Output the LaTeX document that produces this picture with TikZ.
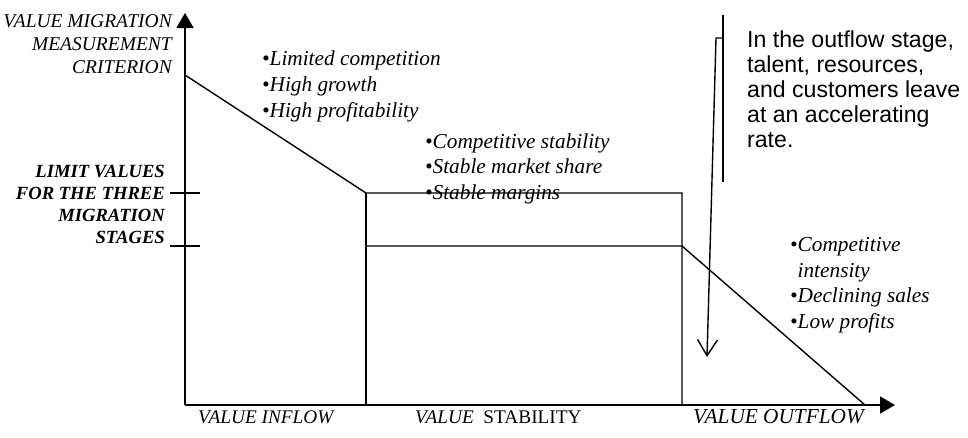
\documentclass[tikz,border=0pt]{standalone}
\usepackage{fontspec}
\setmainfont{Liberation Serif}
\newfontfamily\arialfont{Liberation Sans}
\usetikzlibrary{arrows.meta}
\tikzset{axis/.style={line width=1.8pt,-{Triangle[length=15pt,width=17pt]}}}
\tikzset{curve/.style={line width=1.4pt}}
\tikzset{lbl/.style={inner sep=0pt,font=\fontsize{21.3}{23}\selectfont\itshape}}
\tikzset{bullets/.style={lbl,align=left,font=\fontsize{21.3}{25.5}\selectfont\itshape}}

\begin{document}
\begin{tikzpicture}[x=1pt, y=-1pt]
    \useasboundingbox (0,0) rectangle (968,437);
    \coordinate (O) at (185,405);
    \coordinate (YT) at (185,13);
    \coordinate (XT) at (895,405);
    \coordinate (A) at (185,75);
    \coordinate (B) at (366,193);
    \coordinate (C) at (682,193);
    \coordinate (D) at (366,246);
    \coordinate (E) at (682,246);
    \coordinate (F) at (865,405);
    \coordinate (BO) at (366,405);
    \coordinate (CO) at (682,405);
    \coordinate (T1L) at (170,193);
    \coordinate (T1R) at (200,193);
    \coordinate (T2L) at (170,246);
    \coordinate (T2R) at (200,246);
    \coordinate (PT) at (723,15);
    \coordinate (PB) at (723,182);
    \coordinate (PK) at (723,38);
    \coordinate (QT) at (716,38);
    \coordinate (QB) at (707,357);

    % axes
    \draw [axis] (O) to (YT);
    \draw [axis] (O) to (XT);
    \draw [curve] (T1L) to (T1R);
    \draw [curve] (T2L) to (T2R);

    % migration curve
    \draw [curve] (A) to (B) to (C) to (CO);
    \draw [curve] (B) to (BO);
    \draw [curve] (D) to (E) to (F);

    % outflow arrow
    \draw [curve] (PT) to (PB);
    \draw [curve, -{Straight Barb[length=16pt,width=20pt]}] (PK) to (QT) to (QB);

    % labels (base = last line)
    \node [lbl, align=right, anchor=base east, font=\fontsize{19.5}{23}\selectfont\itshape] (crit) at (172,73)
        {VALUE MIGRATION\\MEASUREMENT\\CRITERION};
    \node [lbl, align=right, anchor=base east, font=\fontsize{18.6}{22}\selectfont\bfseries\itshape] (limit) at (165,243)
        {LIMIT VALUES\\FOR THE THREE\\MIGRATION\\STAGES};

    \node [bullets, anchor=base west, font=\fontsize{21.3}{26}\selectfont\itshape] (inflow) at (262,117)
        {\textbullet Limited competition\\\textbullet High growth\\\textbullet High profitability};
    \node [bullets, anchor=base west] (stable) at (425,199)
        {\textbullet Competitive stability\\\textbullet Stable market share\\\textbullet Stable margins};
    \node [bullets, anchor=base west] (outflow) at (790,328)
        {\textbullet Competitive\\\hphantom{\textbullet}intensity\\\textbullet Declining sales\\\textbullet Low profits};

    \node [inner sep=0pt, align=left, anchor=base west, font=\arialfont\fontsize{23.1}{25}\selectfont] (note) at (747,147)
        {In the outflow stage,\\talent, resources,\\and customers leave\\at an accelerating\\rate.};

    \node [lbl, anchor=base west, font=\fontsize{19.3}{23}\selectfont\itshape] (xin) at (198,423) {VALUE INFLOW};
    \node [lbl, anchor=base west, font=\fontsize{19.3}{23}\selectfont] (xst) at (415,423) {\textit{VALUE}\ \ STABILITY};
    \node [lbl, anchor=base west] (xout) at (693,423) {VALUE OUTFLOW};
\end{tikzpicture}
\end{document}
